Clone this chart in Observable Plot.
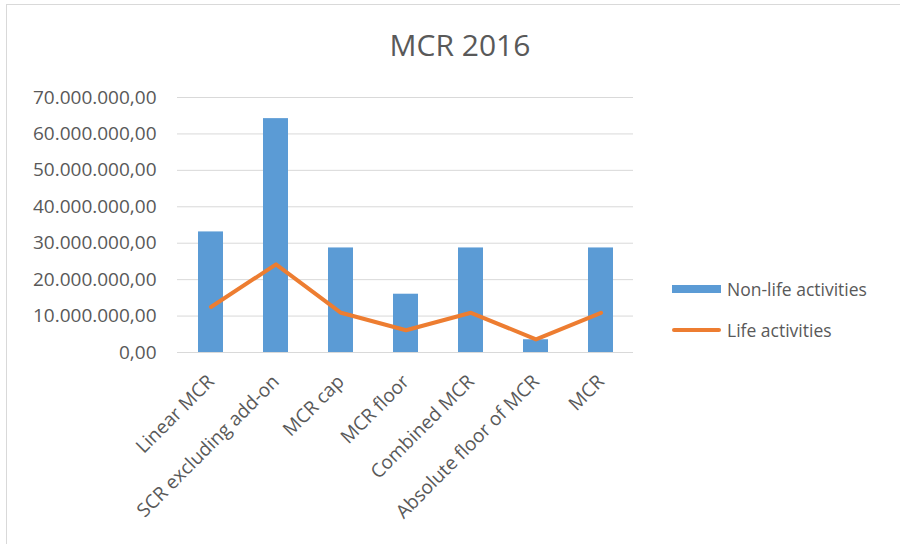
<!DOCTYPE html>
<html>
<head>
<meta charset="utf-8">
<script src="https://cdn.jsdelivr.net/npm/d3@7"></script>
<script src="https://cdn.jsdelivr.net/npm/@observablehq/plot@0.6"></script>
<style>
  html, body { margin: 0; padding: 0; background: #fff; }
  #wrap { position: relative; width: 900px; height: 544px; overflow: hidden; font-family: "Open Sans", sans-serif; color: #595959; }
  #frame { position: absolute; left: 6px; top: 4px; width: 920px; height: 560px; border: 1px solid #d9d9d9; box-sizing: border-box; }
  #title { position: absolute; left: 0; width: 920px; top: 25px; text-align: center; font-size: 30px; line-height: 40px; color: #595959; }
  #chart { position: absolute; left: 0; top: 0; }
  .leg { position: absolute; left: 672px; font-size: 17.5px; color: #595959; display: flex; align-items: center; white-space: nowrap; }
  .sw { width: 49px; margin-right: 6px; }
</style>
</head>
<body>
<div id="wrap">
  <div id="frame"></div>
  <div id="chart"></div>
  <div id="title">MCR 2016</div>
  <div class="leg" style="top:277px"><span class="sw" style="height:8px;background:#5B9BD5"></span>Non-life activities</div>
  <div class="leg" style="top:318px"><span class="sw" style="height:4px;background:#ED7D31;border-radius:2px"></span>Life activities</div>
</div>
<script>
const categories = ["Linear MCR", "SCR excluding add-on", "MCR cap", "MCR floor", "Combined MCR", "Absolute floor of MCR", "MCR"];
const nonLife = [33.1e6, 64.2e6, 28.7e6, 16.0e6, 28.7e6, 3.5e6, 28.7e6];
const life = [12.5e6, 24.2e6, 10.9e6, 6.1e6, 10.9e6, 3.6e6, 10.9e6];
const yTicks = [0, 10e6, 20e6, 30e6, 40e6, 50e6, 60e6, 70e6];

const rows = categories.map((c, i) => ({category: c, nonLife: nonLife[i], life: life[i]}));
const fmt = d3.formatLocale({decimal: ",", thousands: ".", grouping: [3], currency: ["", ""]}).format(",.2f");

const chart = Plot.plot({
  width: 900,
  height: 544,
  marginTop: 97,
  marginBottom: 192,
  marginLeft: 177,
  marginRight: 267,
  style: {fontFamily: "Open Sans, sans-serif", fontSize: "17px", color: "#595959", background: "transparent"},
  x: {domain: categories, paddingInner: 0.62, paddingOuter: 0.31},
  y: {domain: [0, 70e6]},
  marks: [
    Plot.gridY(yTicks, {stroke: "#d9d9d9", strokeOpacity: 1, strokeWidth: 1}),
    Plot.axisY(yTicks, {tickSize: 0, tickPadding: 21, tickFormat: fmt, fill: "#595959", fontSize: 19, label: null}),
    Plot.axisX({tickSize: 0, tickPadding: 26, tickRotate: -45, fill: "#595959", fontSize: 19, label: null}),
    Plot.barY(rows, {x: "category", y: "nonLife", fill: "#5B9BD5"}),
    Plot.lineY(rows, {x: "category", y: "life", stroke: "#ED7D31", strokeWidth: 4, strokeLinejoin: "round", strokeLinecap: "round"})
  ]
});
document.getElementById("chart").appendChild(chart);
</script>
</body>
</html>
